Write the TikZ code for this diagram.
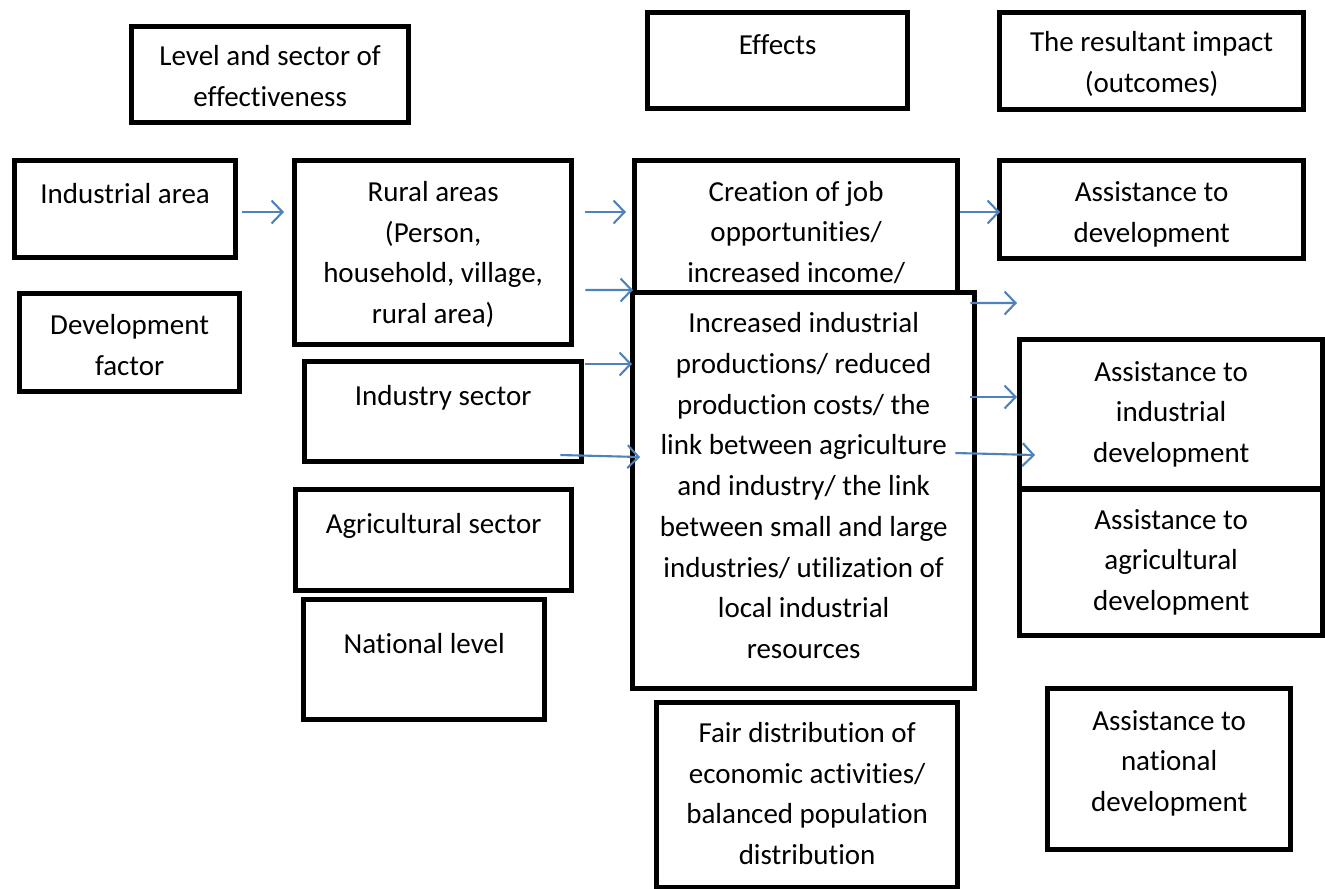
\documentclass[tikz,border=0pt]{standalone}
\usepackage{fontspec}
\setmainfont{Carlito}[Ligatures=NoCommon]
\usetikzlibrary{arrows.meta,calc}
\definecolor{arrowblue}{RGB}{79,129,189}
\tikzset{
	panel/.style={draw, line width=1.5pt, inner sep=0pt, align=center, anchor=north west, fill=white, font=\fontsize{8.25}{11.6}\selectfont},
	flow/.style={draw=arrowblue, line width=0.6pt, -{Straight Barb[length=1.1mm,width=2.3mm]}}
}
\begin{document}
\begin{tikzpicture}
			\useasboundingbox (0,0) rectangle (13.25,-8.88);

			\node[panel, minimum width=2.77cm, text height=0.80cm, text depth=0.16cm] (level) at (1.29,-0.24) {Level and sector of\\effectiveness};
			\node[panel, minimum width=2.60cm, text height=0.42cm, text depth=0.54cm] (effects) at (6.45,-0.10) {Effects};
			\node[panel, minimum width=3.04cm, text height=0.80cm, text depth=0.17cm] (impact) at (9.97,-0.10) {The resultant impact\\(outcomes)};

			\node[panel, minimum width=2.21cm, text height=0.43cm, text depth=0.54cm] (indarea) at (0.12,-1.58) {Industrial area};
			\node[panel, minimum width=2.20cm, text height=0.82cm, text depth=0.16cm] (devfactor) at (0.17,-2.91) {Development\\factor};

			\node[panel, minimum width=2.77cm, text height=1.63cm, text depth=0.21cm] (rural) at (2.92,-1.58) {Rural areas\\(Person,\\household, village,\\rural area)};
			\node[panel, minimum width=2.77cm, text height=0.44cm, text depth=0.56cm] (indsector) at (3.02,-3.59) {Industry sector};
			\node[panel, minimum width=2.76cm, text height=0.44cm, text depth=0.57cm] (agrsector) at (2.93,-4.87) {Agricultural sector};
			\node[panel, minimum width=2.41cm, text height=0.54cm, text depth=0.66cm] (natlevel) at (3.01,-5.97) {National level};

			\node[panel, minimum width=3.23cm, text height=1.22cm, text depth=0.15cm] (jobs) at (6.32,-1.58) {Creation of job\\opportunities/\\increased income/};
			\node[panel, minimum width=3.42cm, text height=3.66cm, text depth=0.30cm] (production) at (6.30,-2.90) {Increased industrial\\productions/ reduced\\production costs/ the\\link between agriculture\\and industry/ the link\\between small and large\\industries/ utilization of\\local industrial\\resources};
			\node[panel, minimum width=3.01cm, text height=1.62cm, text depth=0.23cm] (fairdist) at (6.54,-7.00) {Fair distribution of\\economic activities/\\balanced population\\distribution};

			\node[panel, minimum width=3.04cm, text height=0.82cm, text depth=0.16cm] (asdev) at (9.97,-1.58) {Assistance to\\development};
			\node[panel, minimum width=3.03cm, text height=1.23cm, text depth=0.26cm] (asind) at (10.17,-3.37) {Assistance to\\industrial\\development};
			\node[panel, minimum width=3.03cm, text height=1.21cm, text depth=0.25cm] (asagr) at (10.17,-4.87) {Assistance to\\agricultural\\development};
			\node[panel, minimum width=2.43cm, text height=1.23cm, text depth=0.38cm] (asnat) at (10.45,-6.86) {Assistance to\\national\\development};

			\draw[flow] ($(indarea.north east)+(0.04,-0.54)$) -- ($(rural.north west)+(-0.08,-0.54)$);
			\draw[flow] ($(rural.north east)+(0.11,-0.54)$) -- ($(jobs.north west)+(-0.06,-0.54)$);
			\draw[flow] ($(rural.north east)+(0.11,-1.32)$) -- ($(production.north west)+(0.03,0)$);
			\draw[flow] ($(indsector.north east)+(0.01,-0.05)$) -- ($(production.north west)+(0.02,-0.74)$);
			\draw[flow] ($(indsector.north east)+(-0.24,-0.96)$) -- ($(production.north west)+(0.10,-1.67)$);

			\draw[flow] ($(jobs.north east)+(0,-0.54)$) -- ($(asdev.north west)+(0.03,-0.54)$);
			\draw[flow] ($(production.north east)+(-0.07,-0.13)$) -- ($(asind.north west)+(0,0.34)$);
			\draw[flow] ($(production.north east)+(-0.07,-1.07)$) -- ($(asind.north west)+(0,-0.60)$);
			\draw[flow] ($(production.north east)+(-0.22,-1.63)$) -- ($(asind.north west)+(0.18,-1.18)$);
		\end{tikzpicture}
\end{document}
